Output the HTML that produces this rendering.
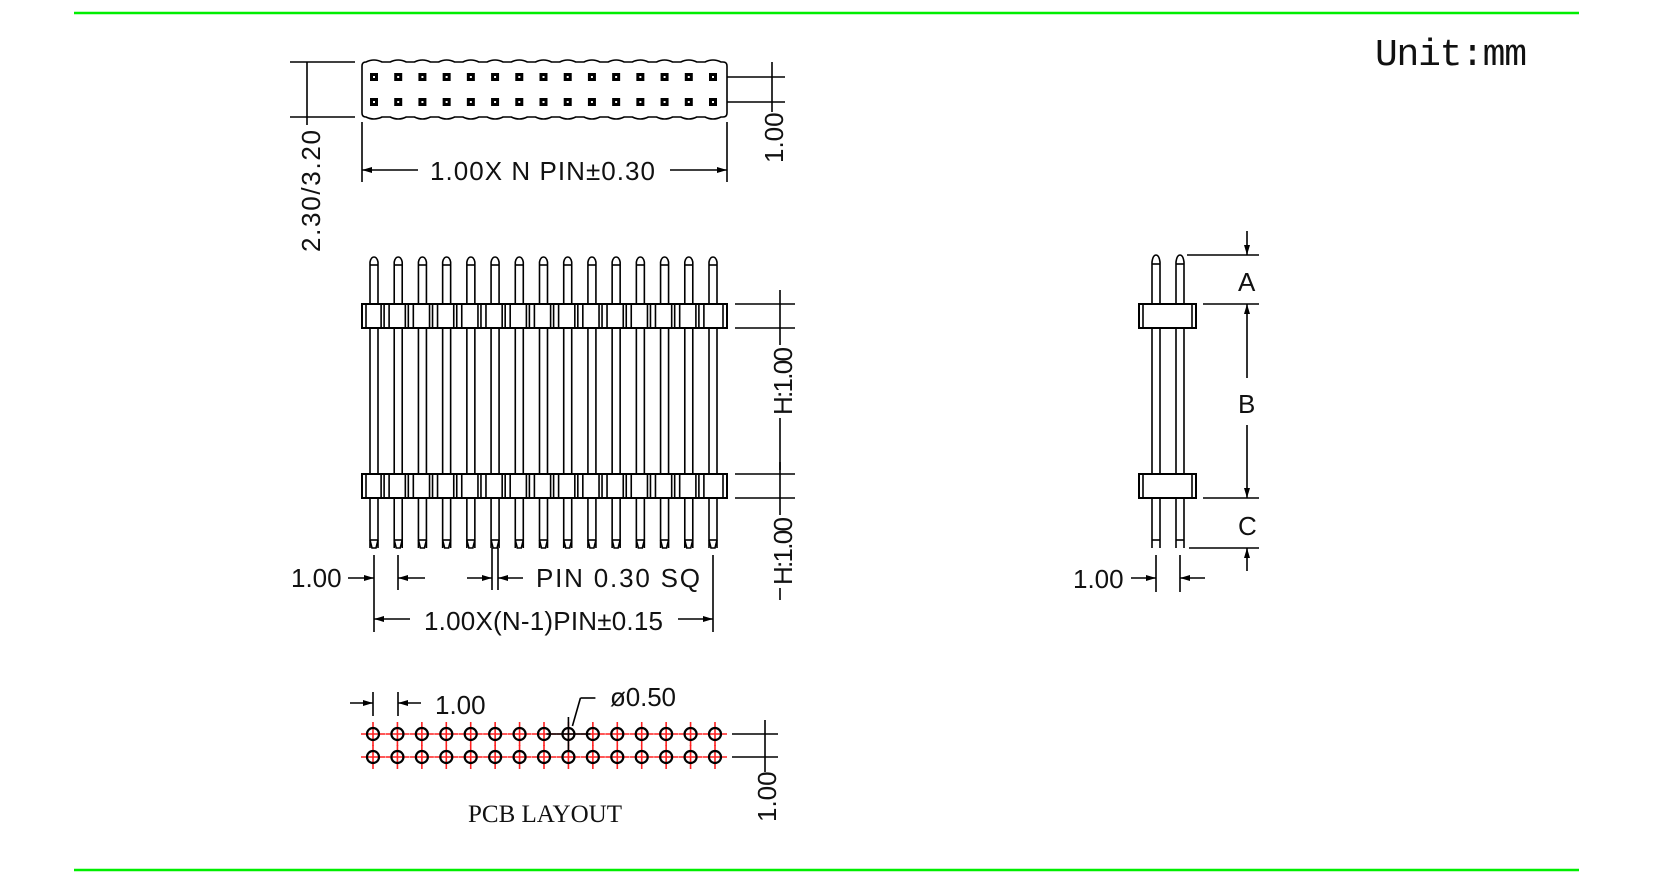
<!DOCTYPE html>
<html><head><meta charset="utf-8"><style>
html,body{margin:0;padding:0;background:#fff;}
svg{display:block;}
text{font-family:"Liberation Sans",sans-serif;fill:#111;}
</style></head><body>
<svg id="s" width="1654" height="881" viewBox="0 0 1654 881" xmlns="http://www.w3.org/2000/svg">
<defs>
<marker id="ar" viewBox="0 0 10 6" refX="10" refY="3" markerWidth="10" markerHeight="6" orient="auto" markerUnits="userSpaceOnUse"><path d="M0,0 L10,3 L0,6 z" fill="#000"/></marker>
</defs>
<line x1="74" y1="13" x2="1579" y2="13" stroke="#00ee00" stroke-width="2.5"/>
<line x1="74" y1="870" x2="1579" y2="870" stroke="#00ee00" stroke-width="2.5"/>
<text x="1375" y="65" style="font-family:'Liberation Mono',monospace;font-size:38px" textLength="152">Unit:mm</text>
<g id="g" stroke="#000" stroke-width="1.6" fill="none"></g>
<g font-size="26">
<text x="430" y="180" textLength="225">1.00X N PIN±0.30</text>
<text transform="translate(320,252) rotate(-90)" textLength="122">2.30/3.20</text>
<text transform="translate(783,163) rotate(-90)">1.00</text>
<text transform="translate(792,415) rotate(-90)" textLength="68">H:1.00</text>
<text transform="translate(792,585) rotate(-90)" textLength="68">H:1.00</text>
<text x="291" y="587">1.00</text>
<text x="536" y="587" textLength="164">PIN 0.30 SQ</text>
<text x="424" y="630" textLength="239">1.00X(N-1)PIN±0.15</text>
<text x="1238" y="291">A</text>
<text x="1238" y="413">B</text>
<text x="1238" y="535">C</text>
<text x="1073" y="588">1.00</text>
<text x="435" y="714">1.00</text>
<text x="610" y="706" textLength="66">ø0.50</text>
<text transform="translate(776,822) rotate(-90)">1.00</text>
</g>
<text x="468" y="822" style="font-family:'Liberation Serif',serif;font-size:25px">PCB LAYOUT</text>
</svg>
<script>
var g=document.getElementById('g'),NS="http://www.w3.org/2000/svg";
function el(t,a,p){var e=document.createElementNS(NS,t);for(var k in a)e.setAttribute(k,a[k]);(p||g).appendChild(e);return e;}
function L(x1,y1,x2,y2,o){var a={x1:x1,y1:y1,x2:x2,y2:y2};if(o)for(var k in o)a[k]=o[k];return el('line',a);}
function A(x1,y1,x2,y2){return L(x1,y1,x2,y2,{'marker-end':'url(#ar)'});}
function R(x,y,w,h,o){var a={x:x,y:y,width:w,height:h};if(o)for(var k in o)a[k]=o[k];return el('rect',a);}
var P=15,x0=374,dp=(713-374)/14;
var d="M366,62 ";
for(var i=0;i<P;i++){var cx=x0+i*dp;d+="L"+(cx-8)+",62 Q"+cx+",58 "+(cx+8)+",62 ";}
d+="L723,62 Q727,62 727,66 L727,113 Q727,117 723,117 ";
for(var i=P-1;i>=0;i--){var cx=x0+i*dp;d+="L"+(cx+8)+",117 Q"+cx+",121 "+(cx-8)+",117 ";}
d+="L366,117 Q362,117 362,113 L362,66 Q362,62 366,62 Z";
el('path',{d:d});
for(var i=0;i<P;i++){var cx=x0+i*dp;[77,102].forEach(function(y){R(cx-4,y-4,8,8,{fill:'#000',stroke:'none'});R(cx-1,y-1,2,2,{fill:'#fff',stroke:'none'});});}
L(290,62,355,62);L(290,117,355,117);L(307,62,307,125);
L(362,122,362,182);L(727,122,727,182);A(418,170,362,170);A(670,170,727,170);
L(727,77,785,77);L(727,102,785,102);L(772,62,772,112);
for(var i=0;i<P;i++){var cx=x0+i*dp;
el('path',{d:"M"+(cx-4)+",548 L"+(cx-4)+",262 Q"+(cx-3)+",257 "+cx+",257 Q"+(cx+3)+",257 "+(cx+4)+",262 L"+(cx+4)+",548"});
L(cx-4,540,cx+4,540);L(cx-4,265,cx+4,265);
el('path',{d:"M"+(cx-4)+",540 L"+(cx-2)+",548 L"+(cx+2)+",548 L"+(cx+4)+",540"});}
[304,474].forEach(function(y){R(362,y,365,24,{fill:'#fff','stroke-width':2});
for(var i=0;i<P;i++){var cx=x0+i*dp;
if(i<P-1){var gx=cx+dp/2;L(gx-5,y,gx-5,y+24);L(gx-2,y,gx-2,y+24);L(gx+3,y,gx+3,y+24);}}
L(366,y,366,y+24);L(723,y,723,y+24);});
[304,328,474,498].forEach(function(y){L(735,y,795,y);});
L(780,290,780,345);L(780,418,780,515);L(780,462,780,470);L(780,588,780,600);
L(374,555,374,632);L(398,555,398,590);A(348,578,374,578);A(425,578,398,578);
L(492,548,492,590);L(498,548,498,590);A(467,578,492,578);A(523,578,498,578);
L(713,555,713,632);A(410,619,374,619);A(678,619,713,619);
[1156,1180].forEach(function(cx){
el('path',{d:"M"+(cx-4)+",548 L"+(cx-4)+",262 Q"+(cx-3)+",255 "+cx+",255 Q"+(cx+3)+",255 "+(cx+4)+",262 L"+(cx+4)+",548"});
L(cx-4,540,cx+4,540);L(cx-4,264,cx+4,264);});
[304,474].forEach(function(y){R(1139,y,57,24,{fill:'#fff','stroke-width':2});L(1143,y,1143,y+24);L(1192,y,1192,y+24);});
L(1187,255,1259,255);L(1203,304,1259,304);L(1203,498,1259,498);L(1189,548,1259,548);
A(1247,231,1247,255);A(1247,378,1247,304);A(1247,425,1247,498);A(1247,571,1247,548);
L(1156,555,1156,592);L(1180,555,1180,592);A(1131,578,1156,578);A(1205,578,1180,578);
for(var i=0;i<P;i++){var cx=373+i*(715-373)/14;[734,757].forEach(function(y){
L(cx-12,y,cx+12,y,{stroke:'#ff2020'});L(cx,y-12,cx,y+12,{stroke:'#ff2020'});
el('circle',{cx:cx,cy:y,r:6,'stroke-width':2.2});});}
var c9=373+8*(715-373)/14;
L(c9-22,734,c9+22,734);L(c9,717,c9,750);L(c9+4,726,c9+12,698);L(c9+12,698,c9+27,698);
L(373,692,373,716);L(398,692,398,716);A(350,703,373,703);A(421,703,398,703);
L(732,734,778,734);L(732,757,778,757);L(765,720,765,772);
</script>
</body></html>
